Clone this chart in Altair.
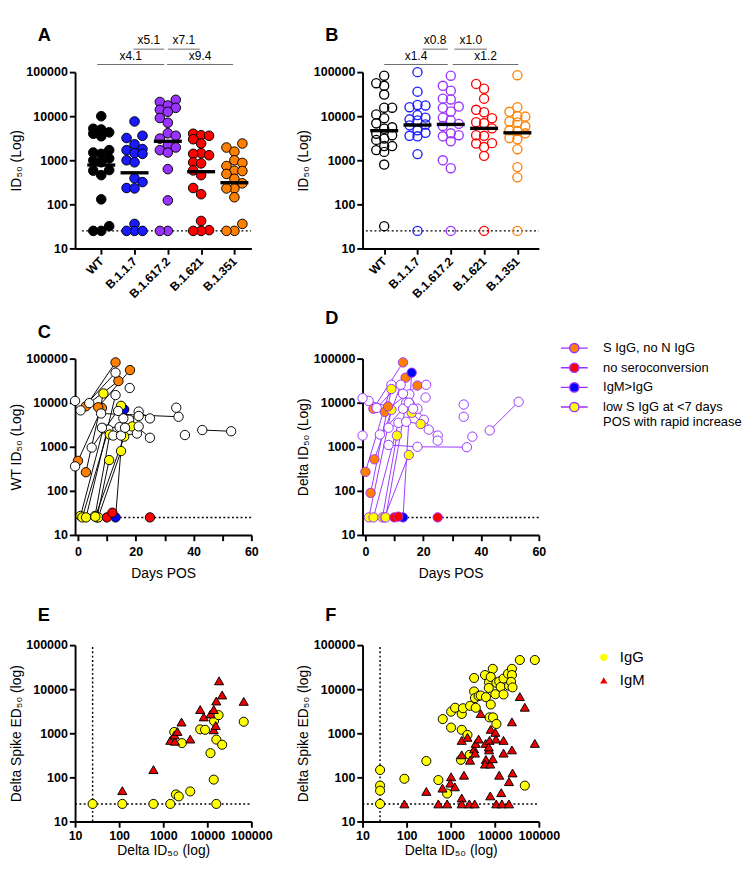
import altair as alt
import pandas as pd
import numpy as np

FONT = "Liberation Sans"
PURPLE = "#9933ff"

# ---------------- data: panels A / B ----------------
variants = ["WT", "B.1.1.7", "B.1.617.2", "B.1.621", "B.1.351"]
variant_colors = ["#000000", "#1a1aff", "#9933ff", "#ff0000", "#ff8000"]

a_wt = [10000, 5200, 5000, 4300, 4000, 3500, 1700, 1500, 1400, 1100, 1000, 900, 600, 580, 460, 130, 32, 25, 25]
a_b117 = [7600, 3600, 3200, 2300, 1800, 1700, 1450, 1400, 1000, 900, 390, 320, 235, 230, 36, 25, 25, 25]
a_delta = [23500, 21000, 17500, 15500, 14000, 12600, 9100, 7100, 4100, 3600, 3100, 2200, 1950, 1700, 1500, 630, 123, 25, 25]
a_b1621 = [4000, 3700, 3600, 3000, 2400, 1450, 1400, 1300, 900, 850, 590, 460, 235, 170, 42, 26, 25, 25]
a_b1351 = [2400, 1950, 1570, 1000, 870, 740, 580, 570, 490, 380, 300, 230, 230, 145, 36, 25, 25]
a_medians = [780, 520, 2700, 550, 310]

b_wt = [83000, 56000, 49000, 31000, 15600, 15600, 11000, 9000, 6900, 5600, 5200, 4000, 3700, 3100, 2900, 2100, 2100, 1700, 1550, 800, 32]
b_b117 = [100000, 36000, 18000, 17500, 16000, 10600, 9300, 8500, 8000, 6500, 6200, 4800, 4200, 3600, 3500, 1380, 25]
b_delta = [83000, 49000, 38000, 25000, 24000, 16600, 15500, 12800, 9300, 8000, 6700, 6000, 4100, 3700, 3500, 2700, 1000, 660, 25]
b_b1621 = [54000, 42000, 25000, 14000, 12300, 9000, 7300, 7000, 5300, 3700, 3600, 2450, 2400, 2000, 1260, 25]
b_b1351 = [85000, 16000, 12600, 10000, 9800, 7600, 7200, 5900, 4800, 4600, 4100, 3200, 3000, 1780, 700, 410, 25]
b_medians = [4700, 6300, 6500, 5300, 4200]

a_br_x0 = [0.97, 2.0, -0.12, 1.98]
a_br_x1 = [1.89, 2.96, 1.89, 3.96]
a_br_label = ["x5.1", "x7.1", "x4.1", "x9.4"]
b_br_x0 = [1.15, 2.11, 0.0, 2.06]
b_br_x1 = [1.91, 3.09, 1.91, 4.03]
b_br_label = ["x0.8", "x1.0", "x1.4", "x1.2"]
br_level = [332000, 332000, 149000, 149000]

# ---------------- data: panels C / D ----------------
grp_codes = ["W", "O", "R", "B", "Y"]
grp_names = ["none", "S IgG, no N IgG", "no seroconversion", "IgM>IgG",
             "low S IgG at <7 days|POS with rapid increase"]
grp_colors = ["#ffffff", "#ff8000", "#ff0000", "#0000ff", "#ffff00"]

c_pid = [1, 1, 2, 2, 3, 3, 4, 4, 5, 5, 6, 6, 7, 7, 8, 8, 9, 9, 10, 10, 11, 11, 12, 12, 13, 13,
         14, 14, 15, 15, 16, 16, 17, 17, 18, 18, 19, 20, 21, 22, 22, 22, 23, 23, 23, 24, 24,
         25, 25, 26, 27, 28, 29, 30, 31, 32, 32]
c_day = [0, 8.3, 2.75, 13, 3.9, 14, 7, 18, 2.75, 8.8, 0.9, 8.8, 1.5, 10.5, 2.8, 13, 5.9, 11, 6.6, 10.8,
         7, 14.9, 6, 16, 13, 16, 8, 34.8, 43, 53, 21, 24.9, 4.75, 14.9, 0.9, 13, 17.9, -1, -1,
         12.2, 17.7, 24.9, 8.3, 14.4, 18.8, 14.9, 20.4, 15.7, 21, 34, 37, 10, 11.9, 24.9, 13.9, 16.3, 21]
c_val = [480, 7600, 8300, 82000, 9800, 31000, 7900, 55000, 265, 16200, 27, 2600, 25, 2450, 25, 14900,
         27, 1900, 25, 500, 25, 800, 26, 1700, 25, 7000, 5700, 4800, 2400, 2250, 6300, 4400, 960, 8500,
         6700, 48000, 21600, 11000, 360, 1800, 4100, 1600, 2700, 2800, 2900, 1800, 2000, 4400, 5000,
         7700, 1850, 25, 32, 25, 6500, 2700, 2900]
c_grp = ["O", "O", "O", "O", "W", "O", "O", "O", "O", "Y", "Y", "Y", "Y", "W", "Y", "W", "Y", "Y", "Y", "Y",
         "Y", "Y", "Y", "Y", "B", "B", "W", "W", "W", "W", "W", "W", "W", "Y", "W", "W", "W", "W", "W",
         "W", "W", "W", "W", "W", "Y", "W", "W", "W", "W", "W", "W", "R", "R", "R", "W", "W", "W"]

d_pid = [1, 1, 2, 2, 3, 3, 4, 4, 5, 5, 6, 6, 7, 7, 8, 8, 9, 9, 10, 10, 11, 11, 12, 12, 12, 13, 13,
         14, 14, 14, 15, 15, 16, 16, 16, 17, 17, 18, 18, 19, 20, 21, 21, 22, 23, 24, 25, 26, 27,
         28, 29, 30, 31, 31, 32, 32]
d_day = [0, 9, 2.75, 13, 3.9, 13.9, 6.7, 18, 1.8, 9, 3.1, 12.2, 1.2, 9, 2.8, 11.4, 5.9, 10.9, 6.6, 15,
         13, 16, 8, 18, 35.1, 43, 53, 15.2, 20.2, 25, 16, 21.9, 8, 14.1, 19.1, 7, 14.1, 1.1, 7.8,
         -1, -1, 5, 13, 21, 20.8, 25, 34, 34, 37, 10, 11.4, 25, 13, 18, 15, 16.5]
d_val = [270, 25500, 7300, 82000, 7600, 37000, 6200, 24500, 90, 20500, 520, 25500, 25, 6900, 25, 3500,
         25, 1800, 25, 650, 25, 48000, 1100, 1000, 980, 2350, 10500, 15500, 4100, 1800, 5900, 2450,
         2700, 3700, 3300, 25, 10000, 11000, 8200, 12700, 1800, 1900, 7300, 25500, 13100, 1380, 9100,
         4800, 1700, 25, 26, 25, 16000, 7300, 10000, 7300]
d_grp = ["O", "W", "O", "O", "W", "O", "O", "O", "O", "Y", "O", "W", "Y", "Y", "Y", "W", "Y", "Y", "Y", "Y",
         "B", "B", "W", "W", "W", "W", "W", "W", "W", "W", "Y", "W", "W", "W", "Y", "Y", "W", "W", "O",
         "W", "W", "W", "W", "W", "W", "W", "W", "W", "W", "R", "R", "R", "W", "W", "W", "W"]

# ---------------- data: panels E / F ----------------
ab_types = ["IgG", "IgM"]
ab_colors = ["#ffff00", "#ee0000"]

e_igg_x = [25, 118, 600, 1450, 16000, 1940, 2250, 4100, 14000, 11800, 16000, 21700, 2650, 1780, 6900, 8900, 14200, 18000, 67000]
e_igg_y = [25, 25, 25, 25, 25, 41, 37, 48, 89, 355, 720, 550, 600, 1070, 1230, 1200, 1900, 2580, 1830]
e_igm_x = [118, 600, 1450, 1850, 1800, 2100, 2600, 4100, 6900, 8300, 11800, 14000, 16000, 18500, 21700, 67000, 14000, 15500]
e_igm_y = [50, 150, 690, 660, 920, 1100, 1800, 740, 3460, 2350, 2740, 3460, 5400, 15500, 7400, 5300, 1200, 1500]

f_igg_x = [25, 25, 25, 25, 89, 280, 525, 830, 660, 1020, 1260, 1020, 1780, 1900, 1780, 1700, 2400, 2700,
           2750, 3400, 3400, 3550, 3700, 4300, 4800, 6000, 6300, 7400, 7300, 9000, 8100, 8100, 7600, 9100,
           10300, 10900, 10900, 12600, 13600, 15800, 15800, 20000, 21000, 24500, 24500, 23500, 25300,
           37000, 81000, 48000]
f_igg_y = [147, 65, 50, 25, 93, 235, 87, 43, 2100, 3100, 3800, 1350, 2750, 3700, 1200, 250, 920, 325,
           4200, 18000, 8900, 6300, 3800, 7000, 7200, 21000, 6600, 14400, 10700, 29000, 19000, 4500, 2300,
           2300, 7700, 1630, 14000, 15000, 11300, 7600, 17500, 22500, 12000, 29000, 21000, 14700, 11000,
           46000, 46000, 65]
f_igm_x = [89, 280, 525, 830, 1020, 980, 1240, 650, 1780, 1780, 2650, 3500, 1780, 2000, 1780, 2400, 2750,
           3400, 3550, 3700, 4300, 4800, 6200, 6300, 6000, 7400, 7600, 7300, 7900, 9000, 8100, 10300, 10600,
           7900, 10800, 12600, 14000, 14500, 15800, 15800, 21000, 21000, 24500, 25300, 24500, 37000, 48000, 81000]
f_igm_y = [25, 48, 25, 25, 103, 74, 61, 57, 34, 25, 25, 25, 690, 112, 325, 810, 245, 440, 355, 590, 740,
           2800, 590, 255, 200, 420, 690, 490, 200, 265, 1230, 1050, 740, 38, 25, 112, 45, 25, 690, 355,
           25, 80, 420, 126, 1820, 6800, 3900, 590]

# ---------------- helpers ----------------
CAT_PX = 34.75
PPD = 46.0


def swarm(vals, step=8.3, diam=9.0):
    idx = sorted(range(len(vals)), key=lambda i: vals[i])
    placed = []
    offs = [0.0] * len(vals)
    for i in idx:
        y = np.log10(vals[i]) * PPD
        best, best_d = 0.0, -1.0
        for k in (0, -1, 1):
            x = k * step
            d = min([np.hypot(x - px, y - py) for px, py in placed] or [1e9])
            if d >= diam:
                best = x
                break
            if d > best_d:
                best, best_d = x, d
        placed.append((best, y))
        offs[i] = best
    return offs


log_ticks = [10, 100, 1000, 10000, 100000]
label_expr = "[" + ",".join("'%s'" % v for v in variants) + "][datum.value]"


def yaxis(title):
    return alt.Axis(values=log_ticks, format="d", title=title, titlePadding=3, labelPadding=2)


def panel_title(letter, offset):
    return alt.TitleParams(letter, anchor="start", frame="group", dx=-39, fontSize=19, fontWeight="bold",
                           font=FONT, offset=offset, color="black")


def strip_panel(groups, medians, br_x0, br_x1, br_label, letter, xdom, dot_range, filled):
    rows = []
    for i, vals in enumerate(groups):
        offs = swarm(vals)
        for v, o in zip(vals, offs):
            rows.append({"x": i + o / CAT_PX, "v": v, "variant": variants[i]})
    pts = pd.DataFrame(rows)
    xenc = alt.X("x:Q", scale=alt.Scale(domain=xdom, nice=False, zero=False),
                 axis=alt.Axis(values=[0, 1, 2, 3, 4], labelExpr=label_expr, labelAngle=315,
                               labelAlign="right", labelBaseline="middle", labelPadding=5,
                               title=None, labelFontSize=12.5))
    yenc = alt.Y("v:Q", scale=alt.Scale(type="log", domain=[10, 100000], nice=False),
                 axis=yaxis("ID₅₀ (Log)"))
    dotted = alt.Chart(pd.DataFrame({"x": [dot_range[0]], "x2": [dot_range[1]], "v": [25]})).mark_rule(
        color="black", strokeDash=[2, 2.5], strokeWidth=1.5).encode(x=xenc, x2="x2:Q", y=yenc)
    cscale = alt.Scale(domain=variants, range=variant_colors)
    if filled:
        points = alt.Chart(pts).mark_circle(size=100, opacity=1, stroke="black", strokeWidth=1).encode(
            x=xenc, y=yenc, fill=alt.Fill("variant:N", scale=cscale, legend=None))
    else:
        points = alt.Chart(pts).mark_point(shape="circle", filled=False, size=90, opacity=1,
                                           strokeWidth=1.4).encode(
            x=xenc, y=yenc, stroke=alt.Stroke("variant:N", scale=cscale, legend=None))
    med = pd.DataFrame({"x": [i - 0.42 for i in range(5)], "x2": [i + 0.42 for i in range(5)], "v": medians})
    medians_l = alt.Chart(med).mark_rule(color="black", strokeWidth=3.5).encode(x=xenc, x2="x2:Q", y=yenc)
    br = pd.DataFrame({"x": br_x0, "x2": br_x1, "v": br_level, "label": br_label})
    br_lines = alt.Chart(br).mark_rule(color="#666666", strokeWidth=1).encode(x=xenc, x2="x2:Q", y=yenc)
    brt = pd.DataFrame({"x": [(a + b) / 2 for a, b in zip(br_x0, br_x1)], "v": br_level, "label": br_label})
    br_text = alt.Chart(brt).mark_text(font=FONT, fontSize=12.5, baseline="bottom", dy=-2, color="black").encode(
        x=xenc, y=yenc, text="label:N")
    return alt.layer(dotted, points, medians_l, br_lines, br_text).properties(
        width=184, height=184, title=panel_title(letter, -10))


def traj_panel(pid, day, val, grp, line_color, point_stroke, ytitle, letter, legend):
    df = pd.DataFrame({"pid": pid, "day": day, "v": val,
                       "grp": [grp_names[grp_codes.index(g)] for g in grp]})
    xenc = alt.X("day:Q", scale=alt.Scale(domain=[-1, 60], nice=False, zero=False),
                 axis=alt.Axis(values=[0, 10, 20, 30, 40, 50, 60],
                               labelExpr="datum.value % 20 === 0 ? datum.label : ''",
                               title="Days POS", titlePadding=9, labelPadding=5))
    yenc = alt.Y("v:Q", scale=alt.Scale(type="log", domain=[10, 100000], nice=False), axis=yaxis(ytitle))
    dotted = alt.Chart(pd.DataFrame({"day": [13], "day2": [60], "v": [25]})).mark_rule(
        color="black", strokeDash=[2, 2.5], strokeWidth=1.5).encode(x=xenc, x2="day2:Q", y=yenc)
    lines = alt.Chart(df).mark_line(color=line_color, strokeWidth=1).encode(
        x=xenc, y=yenc, detail="pid:N", order="day:Q")
    points = alt.Chart(df).mark_circle(size=95, opacity=1, stroke=point_stroke, strokeWidth=1).encode(
        x=xenc, y=yenc, fill=alt.Fill("grp:N", scale=alt.Scale(domain=grp_names, range=grp_colors), legend=legend))
    return alt.layer(dotted, lines, points).properties(width=184, height=184, title=panel_title(letter, 12))


def scatter_panel(gx, gy, mx, my, letter, legend):
    df = pd.DataFrame({"dx": list(gx) + list(mx), "ey": list(gy) + list(my),
                       "type": ["IgG"] * len(gx) + ["IgM"] * len(mx)})
    xenc = alt.X("dx:Q", scale=alt.Scale(type="log", domain=[10, 100000], nice=False),
                 axis=alt.Axis(values=log_ticks, format="d", title="Delta ID₅₀ (log)", titlePadding=2, labelPadding=3))
    yenc = alt.Y("ey:Q", scale=alt.Scale(type="log", domain=[10, 100000], nice=False),
                 axis=yaxis("Delta Spike ED₅₀ (log)"))
    vline = alt.Chart(pd.DataFrame({"dx": [25], "ey": [10], "ey2": [100000]})).mark_rule(
        color="black", strokeDash=[2, 2.5], strokeWidth=1.5).encode(x=xenc, y=yenc, y2="ey2:Q")
    hline = alt.Chart(pd.DataFrame({"dx": [10], "dx2": [100000], "ey": [25]})).mark_rule(
        color="black", strokeDash=[2, 2.5], strokeWidth=1.5).encode(x=xenc, x2="dx2:Q", y=yenc)
    points = alt.Chart(df).mark_point(filled=True, size=90, opacity=1, stroke="black", strokeWidth=1).encode(
        x=xenc, y=yenc,
        fill=alt.Fill("type:N", scale=alt.Scale(domain=ab_types, range=ab_colors), legend=legend),
        shape=alt.Shape("type:N", scale=alt.Scale(domain=ab_types, range=["circle", "triangle-up"]), legend=legend))
    return alt.layer(vline, hline, points).properties(width=184, height=184, title=panel_title(letter, 15))


pA = strip_panel([a_wt, a_b117, a_delta, a_b1621, a_b1351], a_medians, a_br_x0, a_br_x1, a_br_label,
                 "A", [-0.786, 4.51], [-0.58, 4.5], True)
pB = strip_panel([b_wt, b_b117, b_delta, b_b1621, b_b1351], b_medians, b_br_x0, b_br_x1, b_br_label,
                 "B", [-0.65, 4.645], [-0.55, 4.64], False)

seg = "M-1.75,0L-0.6,0M0.6,0L1.75,0M-0.6,0A0.6,0.6,0,1,0,0.6,0A0.6,0.6,0,1,0,-0.6,0Z"
d_legend = alt.Legend(orient="none", legendX=212, legendY=-20, values=grp_names[1:], symbolType=seg,
                      symbolSize=256, symbolStrokeColor=PURPLE, symbolStrokeWidth=1.5, labelFont=FONT,
                      labelFontSize=13.5, labelOffset=21, rowPadding=3.5, labelLimit=300, title=None,
                      labelExpr="split(datum.label, '|')", labelColor="black")
pC = traj_panel(c_pid, c_day, c_val, c_grp, "black", "black", "WT ID₅₀ (Log)", "C", None)
pD = traj_panel(d_pid, d_day, d_val, d_grp, PURPLE, PURPLE, "Delta ID₅₀ (Log)", "D", d_legend)

f_legend = alt.Legend(orient="none", legendX=244, legendY=5, symbolSize=60, symbolStrokeColor="black",
                      symbolStrokeWidth=1, labelFont=FONT, labelFontSize=15.5, labelOffset=9,
                      rowPadding=7, title=None, labelColor="black")
pE = scatter_panel(e_igg_x, e_igg_y, e_igm_x, e_igm_y, "E", None)
pF = scatter_panel(f_igg_x, f_igg_y, f_igm_x, f_igm_y, "F", f_legend)

chart = alt.concat(pA, pB, pC, pD, pE, pF, columns=2, spacing={"row": 115, "column": 116},
                   bounds="flush", padding=0).resolve_scale(
    x="independent", y="independent", fill="independent", stroke="independent", shape="independent"
).resolve_legend(fill="independent", shape="independent", stroke="independent").configure_axis(
    domainColor="black", domainWidth=2, tickColor="black", tickWidth=2, tickSize=6,
    labelFont=FONT, labelFontWeight="bold", labelFontSize=13, labelColor="black",
    labelOverlap=False, labelFlush=False,
    titleFont=FONT, titleFontWeight="normal", titleFontSize=14.5, titleColor="black", grid=False
).configure_view(stroke=None)

chart.save("out.html", embed_options={"renderer": "svg", "actions": False})
